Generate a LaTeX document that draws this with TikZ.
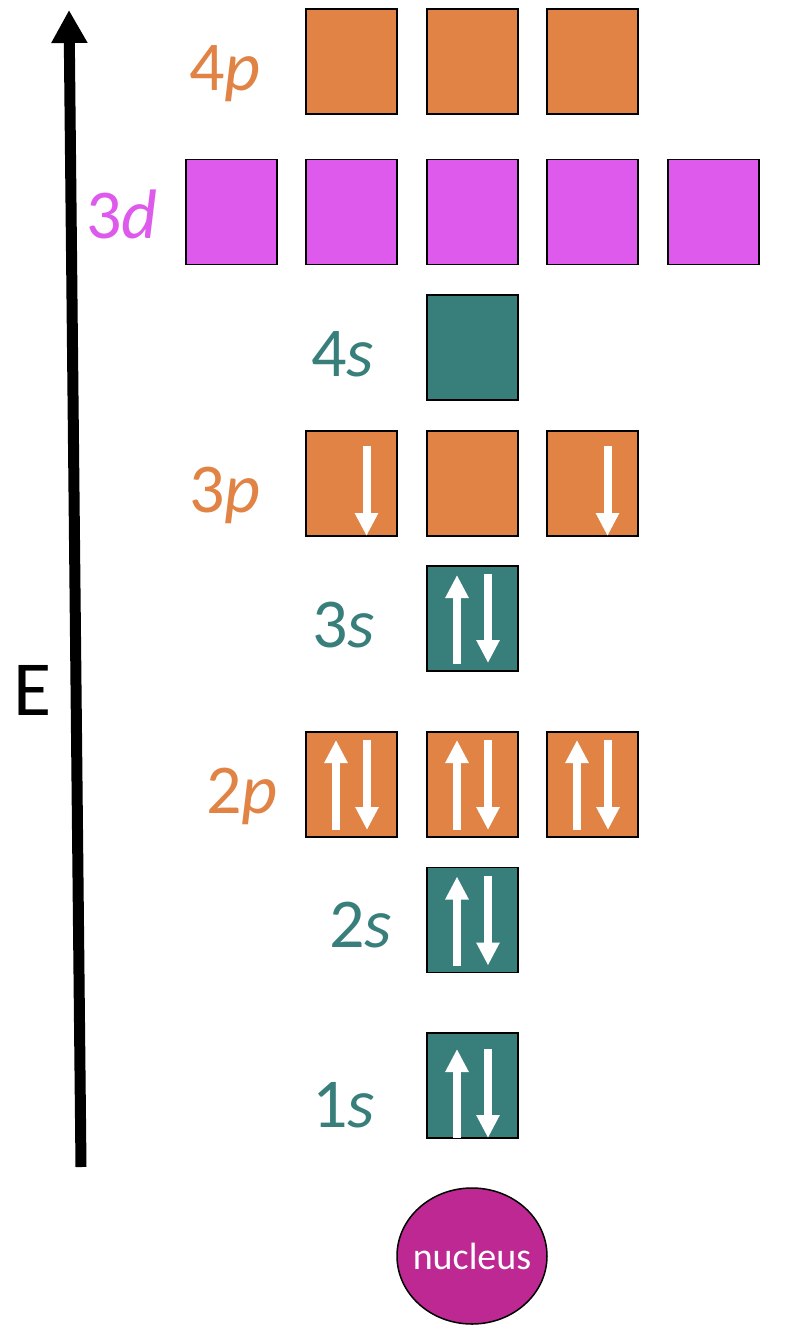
\documentclass[tikz,border=0pt]{standalone}
\usepackage{fontspec}
\setmainfont{Carlito}
\usetikzlibrary{arrows.meta,shapes.geometric}
\definecolor{orb}{HTML}{E08344}
\definecolor{mag}{HTML}{DE5AEC}
\definecolor{teal}{HTML}{387F7C}
\definecolor{nuc}{HTML}{BD2892}
\begin{document}
\begin{tikzpicture}[x=1pt,y=-1pt,
  orbbox/.style={draw=black,line width=1.5pt,minimum width=91pt,minimum height=105pt,inner sep=0pt,outer sep=0pt},
  pbox/.style={orbbox,fill=orb},
  dbox/.style={orbbox,fill=mag},
  sbox/.style={orbbox,fill=teal},
  elec/.style={draw=white,line width=8pt,-{Triangle[width=22pt,length=23pt]}},
  lbl/.style={anchor=base west,inner sep=0pt,font=\fontsize{70}{84}\selectfont}
]
\useasboundingbox (0,0) rectangle (800,1333);
% axis
\coordinate (ax0) at (81,1167);
\coordinate (ax1) at (69,10);
\draw[line width=11pt,-{Triangle[width=34pt,length=33pt]}] (ax0) -- (ax1);
\node[anchor=base west,inner sep=0pt,font=\fontsize{78}{90}\selectfont] (E) at (13,715) {E};
% 4p
\node[pbox] (p4a) at (351.5,61.5) {};
\node[pbox] (p4b) at (472.5,61.5) {};
\node[pbox] (p4c) at (592.5,61.5) {};
\node[lbl,text=orb] (l4p) at (189,90) {4\textit{p}};
% 3d
\node[dbox] (d3a) at (231.5,212) {};
\node[dbox] (d3b) at (351.5,212) {};
\node[dbox] (d3c) at (472.5,212) {};
\node[dbox] (d3d) at (592.5,212) {};
\node[dbox] (d3e) at (713.5,212) {};
\node[lbl,text=mag] (l3d) at (86,238) {3\textit{d}};
% 4s
\node[sbox] (s4) at (472.5,347.5) {};
\node[lbl,text=teal] (l4s) at (311,376) {4\textit{s}};
% 3p
\node[pbox] (p3a) at (351.5,483.5) {};
\node[pbox] (p3b) at (472.5,483.5) {};
\node[pbox] (p3c) at (592.5,483.5) {};
\node[lbl,text=orb] (l3p) at (189,512) {3\textit{p}};
\draw[elec] ([xshift=15pt,yshift=-15pt]p3a.north) -- ([xshift=15pt]p3a.south);
\draw[elec] ([xshift=15pt,yshift=-15pt]p3c.north) -- ([xshift=15pt]p3c.south);
% 3s
\node[sbox] (s3) at (472.5,618.5) {};
\node[lbl,text=teal] (l3s) at (312,647) {3\textit{s}};
\draw[elec] ([xshift=-15.5pt,yshift=7pt]s3.south) -- ([xshift=-15.5pt,yshift=-9pt]s3.north);
\draw[elec] ([xshift=15.5pt,yshift=-8pt]s3.north) -- ([xshift=15.5pt,yshift=8pt]s3.south);
% 2p
\foreach \n/\x in {p2a/351.5,p2b/472.5,p2c/592.5}{
  \node[pbox] (\n) at (\x,784.5) {};
  \draw[elec] ([xshift=-15.5pt,yshift=7pt]\n.south) -- ([xshift=-15.5pt,yshift=-8pt]\n.north);
  \draw[elec] ([xshift=15.5pt,yshift=-8pt]\n.north) -- ([xshift=15.5pt,yshift=7pt]\n.south);
}
\node[lbl,text=orb] (l2p) at (206,813) {2\textit{p}};
% 2s
\node[sbox] (s2) at (472.5,920) {};
\node[lbl,text=teal] (l2s) at (329,947) {2\textit{s}};
\draw[elec] ([xshift=-15.5pt,yshift=7pt]s2.south) -- ([xshift=-15.5pt,yshift=-9pt]s2.north);
\draw[elec] ([xshift=15.5pt,yshift=-8pt]s2.north) -- ([xshift=15.5pt,yshift=7pt]s2.south);
% 1s
\node[sbox] (s1) at (472.5,1085.5) {};
\node[lbl,text=teal] (l1s) at (312,1127) {1\textit{s}};
\draw[elec] ([xshift=-15.5pt]s1.south) -- ([xshift=-15.5pt,yshift=-16pt]s1.north);
\draw[elec] ([xshift=15.5pt,yshift=-16pt]s1.north) -- ([xshift=15.5pt]s1.south);
% nucleus
\node[ellipse,draw=black,line width=1.5pt,fill=nuc,minimum width=150pt,minimum height=136pt,inner sep=0pt,text=white,font=\fontsize{38}{44}\selectfont] (nucleus) at (472,1256) {\makebox[0pt]{nucleus}};
\end{tikzpicture}
\end{document}
